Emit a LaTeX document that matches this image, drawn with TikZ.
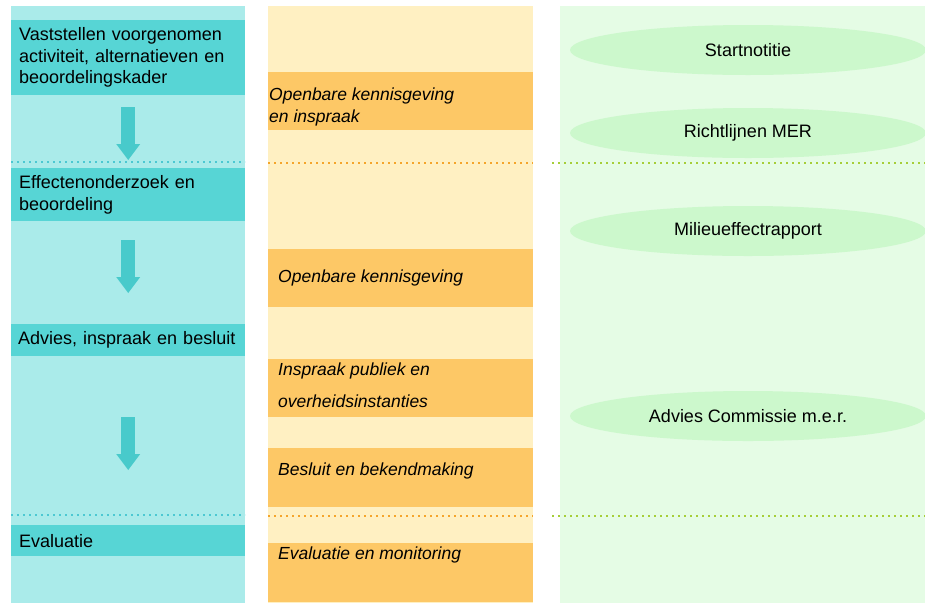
\documentclass[tikz,border=0pt]{standalone}
\usepackage{fontspec}
\setmainfont{Liberation Sans}
\usetikzlibrary{arrows.meta,shapes.geometric}

\definecolor{stapbg}{HTML}{AAEBEA}
\definecolor{stapteal}{HTML}{57D5D5}
\definecolor{stappijl}{HTML}{48CACB}
\definecolor{stapdots}{HTML}{4CC8D2}
\definecolor{procesbg}{HTML}{FFF0C2}
\definecolor{procesoranje}{HTML}{FDC866}
\definecolor{procesdots}{HTML}{F5A52A}
\definecolor{docbg}{HTML}{E5FCE5}
\definecolor{docgroen}{HTML}{CCF8CC}
\definecolor{docdots}{HTML}{A6CE39}

\tikzset{
  stapbox/.style={fill=stapteal, anchor=north west, minimum width=234pt,
    text width=218pt, inner xsep=8pt, inner ysep=0pt, align=left,
    font=\fontsize{18}{21.5}\selectfont},
  flowarrow/.style={draw=stappijl, line width=14pt,
    -{Triangle[width=24pt,length=16pt,line width=0pt]}},
  procestekst/.style={anchor=west, inner sep=0pt, align=left,
    font=\fontsize{17.5}{22}\selectfont\itshape},
  docellipse/.style={ellipse, fill=docgroen, minimum width=356pt,
    minimum height=50pt, inner sep=0pt, font=\fontsize{18}{21.5}\selectfont},
  scheiding/.style={line width=2pt, dash pattern=on 2pt off 4pt}
}

\begin{document}
\begin{tikzpicture}[x=1pt, y=-1pt]
        \useasboundingbox (0,0) rectangle (925,603);
        % Kolommen
        \fill[stapbg] (11,6) rectangle (245,603);
        \fill[procesbg] (268,6) rectangle (533,603);
        \fill[docbg] (560,6) rectangle (925,603);
        % Scheidingslijnen
        \foreach \y in {162,515} {
          \draw[scheiding, stapdots] (11,\y) -- (245,\y);
          \draw[scheiding, procesdots] (268,\y+1) -- (533,\y+1);
          \draw[scheiding, docdots] (552,\y+1) -- (925,\y+1);
        }
        % Stappen (links)
        \node[stapbox, minimum height=75pt] (vaststellen) at (11,20)
          {Vaststellen voorgenomen\\activiteit, alternatieven en\\beoordelingskader};
        \node[stapbox, minimum height=53pt] (effecten) at (11,168)
          {Effectenonderzoek en\\beoordeling};
        \node[stapbox, minimum height=32pt, inner xsep=7pt, text width=220pt] (advies) at (11,324)
          {Advies, inspraak en besluit};
        \node[stapbox, minimum height=31pt] (evaluatie) at (11,525) {Evaluatie};
        \draw[flowarrow, shorten <=12pt, shorten >=8pt] (vaststellen) -- (effecten);
        \draw[flowarrow, shorten <=19pt, shorten >=31pt] (effecten) -- (advies);
        \draw[flowarrow, shorten <=61pt, shorten >=55pt] (advies) -- (evaluatie);
        % Procedure (midden)
        \foreach \a/\b in {72/130, 249/307, 359/417, 448/507, 543/602} {
          \fill[procesoranje] (268,\a) rectangle (533,\b);
        }
        \node[procestekst] (kennisgeving1) at (269,107) {Openbare kennisgeving\\en inspraak};
        \node[procestekst] (kennisgeving2) at (278,278) {Openbare kennisgeving};
        \node[procestekst] (inspraak) at (278,385) {Inspraak publiek en\\[10pt]overheidsinstanties};
        \node[procestekst] (besluit) at (278,471) {Besluit en bekendmaking};
        \node[procestekst] (monitoring) at (278,555) {Evaluatie en monitoring};
        % Documenten (rechts)
        \node[docellipse] (startnotitie) at (748,50) {Startnotitie};
        \node[docellipse] (richtlijnen) at (748,133) {Richtlijnen MER};
        \node[docellipse] (mer) at (748,231) {Milieueffectrapport};
        \node[docellipse] (commissie) at (748,416) {Advies Commissie m.e.r.};
\end{tikzpicture}
\end{document}
